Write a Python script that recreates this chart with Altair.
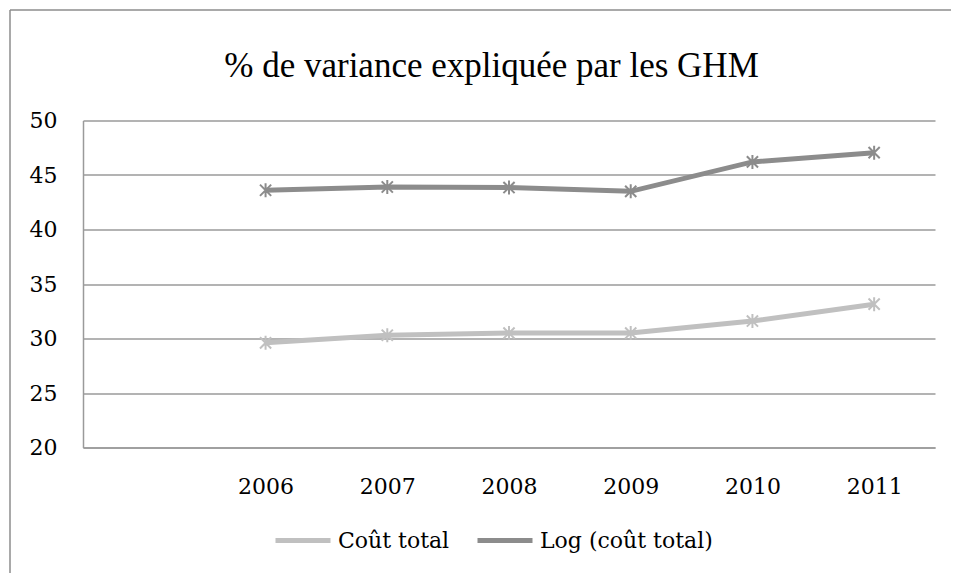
import altair as alt
import pandas as pd

years = ["2006", "2007", "2008", "2009", "2010", "2011"]
cout_total = [29.6, 30.3, 30.5, 30.5, 31.6, 33.15]
log_cout_total = [43.6, 43.9, 43.85, 43.5, 46.2, 47.05]
series_names = ["Coût total", "Log (coût total)"]
series_colors = ["#c0c0c0", "#8c8c8c"]
x_domain = [""] + years
y_ticks = [20, 25, 30, 35, 40, 45, 50]

rows = []
for name, vals in zip(series_names, [cout_total, log_cout_total]):
    for yr, v in zip(years, vals):
        rows.append({"Année": yr, "Valeur": v, "Série": name})
df = pd.DataFrame(rows)

FONT = "DejaVu Serif"
TITLE_FONT = "Liberation Serif"
GRID = "#9a9a9a"
STAR = "M0,-1L0,1M-0.8,-0.8L0.8,0.8M-0.8,0.8L0.8,-0.8"

x = alt.X(
    "Année:O",
    scale=alt.Scale(type="point", domain=x_domain, padding=0.5),
    axis=alt.Axis(title=None, labelAngle=0, ticks=False, domain=True,
                  domainColor=GRID, domainWidth=1.5, grid=False,
                  labelPadding=29, labelFont=FONT, labelFontSize=22,
                  labelColor="#000000"),
)
y = alt.Y(
    "Valeur:Q",
    scale=alt.Scale(domain=[20, 50], nice=False, zero=False),
    axis=alt.Axis(title=None, values=y_ticks, ticks=False, domain=True,
                  domainColor=GRID, domainWidth=1.5, grid=True,
                  gridColor=GRID, gridWidth=1.5, labelPadding=26,
                  labelFont=FONT, labelFontSize=22, labelColor="#000000"),
)
color = alt.Color(
    "Série:N",
    scale=alt.Scale(domain=series_names, range=series_colors),
    legend=alt.Legend(title=None, orient="none", legendX=190, legendY=390,
                      direction="horizontal", symbolType="stroke",
                      symbolSize=3025, symbolStrokeWidth=5,
                      labelFont=FONT, labelFontSize=22, labelOffset=5,
                      labelLimit=400, columnPadding=17,
                      labelColor="#000000"),
)

base = alt.Chart(df)
lines = base.mark_line(strokeWidth=5).encode(x=x, y=y, color=color)
points = base.mark_point(shape=STAR, size=196, strokeWidth=2, filled=False,
                         opacity=1).encode(
    x=x, y=y,
    stroke=alt.Stroke("Série:N",
                      scale=alt.Scale(domain=series_names, range=series_colors),
                      legend=None),
)

frame_src = alt.Chart(pd.DataFrame({"b": [0]}))
border_left = frame_src.mark_rule(color="#8c8c8c", strokeWidth=1.5).encode(
    x=alt.value(-73), y=alt.value(-110.5), y2=alt.value(460))
border_top = frame_src.mark_rule(color="#8c8c8c", strokeWidth=1.5).encode(
    x=alt.value(-73), x2=alt.value(900), y=alt.value(-110.5))

chart = alt.layer(border_left, border_top, lines, points).properties(
    width=852,
    height=327,
    autosize=alt.AutoSizeParams(type="none"),
    padding={"left": 75, "top": 112.5, "right": 16, "bottom": 125.5},
    title=alt.TitleParams(
        "% de variance expliquée par les GHM",
        font=TITLE_FONT, fontSize=35, fontWeight="normal",
        color="#000000", anchor="middle", frame="group",
        baseline="bottom", offset=37, dx=-17.5, dy=147,
    ),
).configure_view(stroke=None).configure_title(font=TITLE_FONT)

chart.save("out.html", embed_options={"renderer": "svg", "actions": False})
